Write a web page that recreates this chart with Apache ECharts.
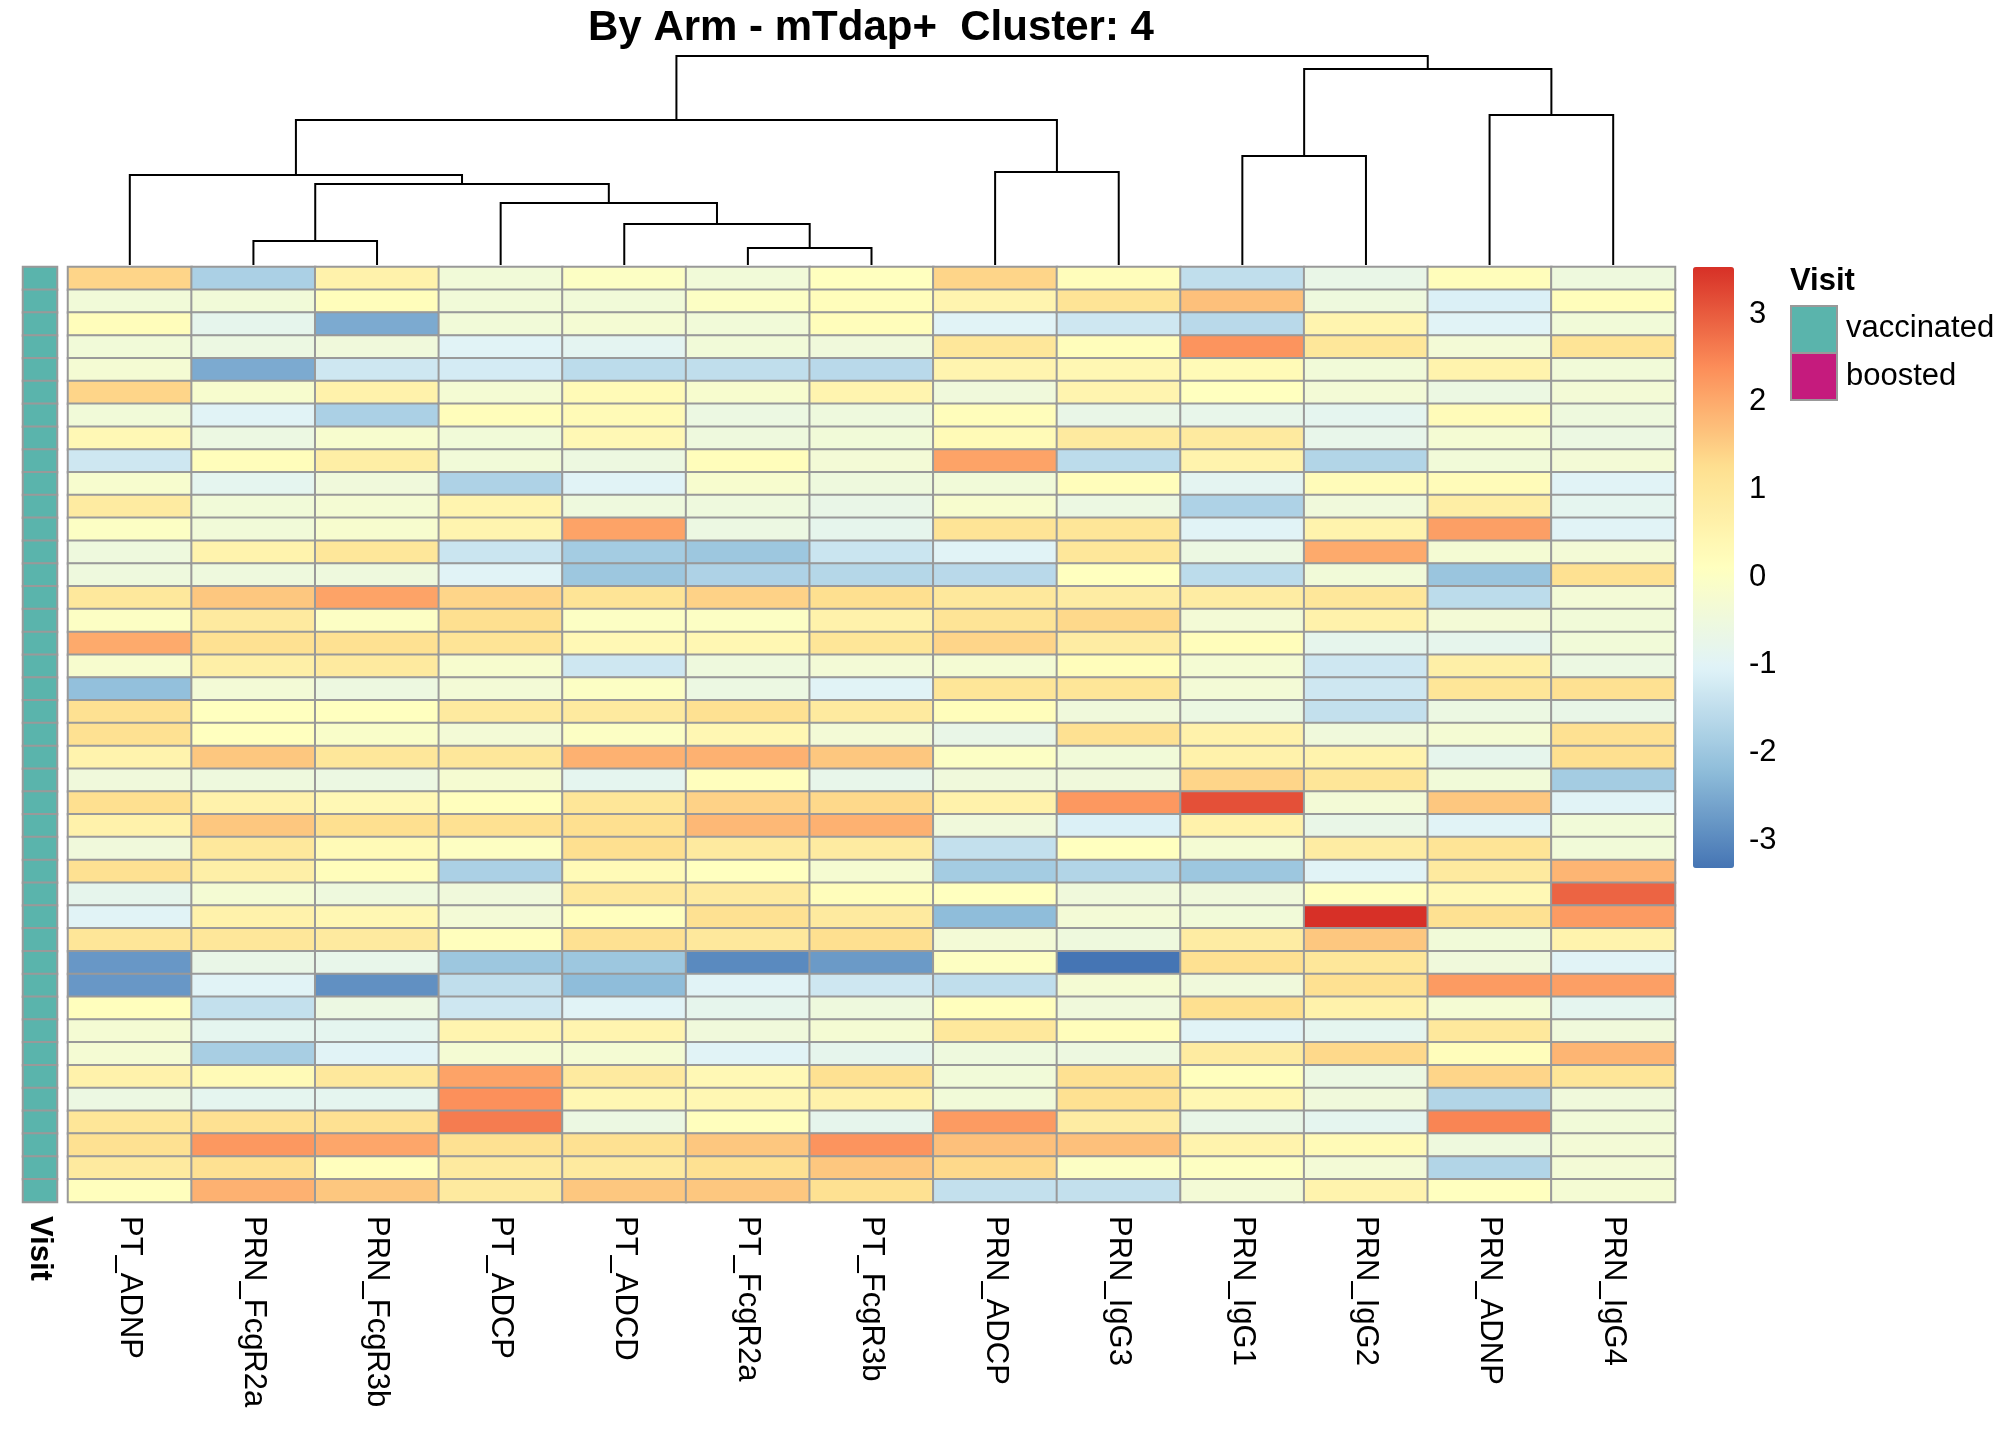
<!DOCTYPE html>
<html>
<head>
<meta charset="utf-8">
<title>By Arm - mTdap+ Cluster: 4</title>
<script src="https://cdn.jsdelivr.net/npm/echarts@6/dist/echarts.min.js"></script>
<style>
  html, body { margin: 0; padding: 0; background: #fff; }
  #chart { width: 2016px; height: 1440px; }
</style>
</head>
<body>
<div id="chart"></div>
<script>
// column order as drawn (after clustering)
const columns = ['PT_ADNP', 'PRN_FcgR2a', 'PRN_FcgR3b', 'PT_ADCP', 'PT_ADCD', 'PT_FcgR2a',
  'PT_FcgR3b', 'PRN_ADCP', 'PRN_IgG3', 'PRN_IgG1', 'PRN_IgG2', 'PRN_ADNP', 'PRN_IgG4'];

// scaled values, one array per column, rows top to bottom
const PT_ADNP = [1.4, -0.4, 0.2, -0.4, -0.3, 1.4, -0.4, 0.35, -1.3, -0.2, 0.85, 0.0, -0.5, -0.5, 0.95, 0.0, 2.0, -0.2, -2.15, 1.2,
  1.2, 0.55, -0.45, 1.25, 0.6, -0.45, 1.2, -0.8, -1.0, 1.05, -2.8, -2.8, 0.15, -0.3, -0.3, 0.6, -0.6, 1.05, 1.2, 0.9, 0.15];
const PRN_FcgR2a = [-1.8, -0.4, -0.8, -0.6, -2.5, -0.2, -1.0, -0.6, 0.2, -0.85, -0.4, -0.4, 0.55, -0.5, 1.6, 0.9, 1.2, 0.7, -0.35, 0.1,
  0.1, 1.6, -0.5, 0.6, 1.6, 0.95, 0.7, -0.3, 0.6, 1.0, -0.7, -1.0, -1.45, -0.85, -1.85, 0.3, -0.85, 1.2, 2.25, 1.2, 1.9];
const PRN_FcgR3b = [0.6, 0.2, -2.5, -0.45, -1.3, 0.6, -1.8, -0.2, 0.75, -0.45, -0.3, -0.2, 1.0, -0.5, 2.1, 0.0, 1.2, 0.9, -0.55, 0.1,
  -0.1, 1.0, -0.6, 0.35, 1.25, 0.3, 0.2, -0.5, 0.4, 0.9, -0.75, -2.9, -0.6, -0.85, -1.0, 0.95, -0.85, 1.2, 2.05, 0.15, 1.6];
const PT_ADCP = [-0.4, -0.4, -0.4, -1.0, -1.2, -0.3, 0.2, -0.4, -0.4, -1.75, 0.5, 0.5, -1.35, -1.0, 1.4, 1.25, 1.1, -0.2, -0.35, 0.9,
  -0.35, 1.0, -0.25, 0.15, 1.2, 0.05, -1.8, -0.45, -0.35, 0.15, -2.0, -1.5, -1.3, 0.5, -0.3, 2.1, 2.35, 2.6, 1.2, 0.9, 0.9];
const PT_ADCD = [0.0, -0.4, -0.3, -0.9, -1.55, 0.3, 0.3, 0.35, -0.55, -1.0, -0.5, 2.1, -1.9, -2.0, 1.1, 0.0, 0.35, -1.3, 0.0, 0.9,
  0.0, 1.9, -0.85, 1.05, 1.25, 1.25, 0.3, 0.95, 0.15, 1.2, -2.0, -2.2, -1.0, 0.5, -0.3, 0.9, 0.4, -0.6, 1.2, 0.9, 1.6];
const PT_FcgR2a = [-0.4, 0.0, -0.4, -0.4, -1.5, -0.2, -0.6, -0.5, 0.2, -0.2, -0.5, -0.6, -2.0, -1.75, 1.45, 0.0, 0.4, -0.5, -0.6, 1.2,
  0.4, 1.9, 0.15, 1.45, 1.8, 0.9, 0.1, 0.9, 1.2, 0.95, -3.0, -1.0, -0.8, -0.45, -1.0, 0.35, 0.4, 0.15, 1.6, 1.2, 1.6];
const PT_FcgR3b = [0.1, 0.2, 0.2, -0.45, -1.6, 0.5, -0.5, -0.4, -0.35, -0.5, -0.7, -0.8, -1.35, -1.65, 1.25, 0.6, 1.05, -0.35, -1.0, 0.9,
  -0.35, 1.6, -0.75, 1.35, 1.9, 0.85, -0.25, 0.2, 0.9, 1.25, -2.75, -1.3, -0.5, -0.3, -0.8, 1.2, 0.6, -0.8, 2.3, 1.6, 1.2];
const PRN_ADCP = [1.4, 0.5, -1.0, 1.0, 0.5, -0.45, 0.2, 0.3, 2.1, -0.4, -0.2, 1.1, -1.0, -1.6, 0.95, 1.1, 1.4, -0.3, 1.05, 0.2,
  -0.7, 0.0, -0.45, 0.6, -0.45, -1.45, -1.9, 0.1, -2.2, -0.35, 0.05, -1.5, 0.15, 0.95, -0.5, -0.4, -0.4, 2.2, 1.7, 1.35, -1.45];
const PRN_IgG3 = [0.2, 1.1, -1.3, 0.2, 0.4, 0.5, -0.7, 0.9, -1.55, 0.2, -0.6, 1.05, 1.0, 0.1, 0.8, 1.35, 0.8, 0.2, 1.05, -0.45,
  1.2, -0.4, -0.45, 2.25, -1.1, 0.1, -1.7, -0.45, -0.35, -0.5, -3.32, -0.3, -0.45, 0.2, -0.55, 1.2, 1.2, 0.8, 1.7, 0.0, -1.45];
const PRN_IgG1 = [-1.5, 1.7, -1.6, 2.3, 0.3, 0.1, -0.75, 0.9, 0.55, -0.9, -1.75, -1.0, -0.6, -1.55, 0.8, -0.35, 0.2, -0.3, -0.35, -0.6,
  0.6, 0.6, 1.4, 3.15, 0.6, -0.3, -2.0, -0.45, -0.4, 0.8, 1.2, -0.45, 1.25, -1.0, 0.85, 0.15, 0.4, -0.7, 0.55, 0.05, -0.35];
const PRN_IgG2 = [-0.7, -0.5, 0.5, 1.0, -0.4, -0.35, -0.85, -0.75, -1.7, 0.25, -0.45, 0.55, 2.0, -0.4, 1.0, 0.6, -0.8, -1.3, -1.3, -1.45,
  -0.45, 0.55, 1.05, -0.35, -0.7, 0.8, -1.0, 0.15, 3.54, 1.6, 1.0, 1.2, 0.6, -0.85, 1.35, -0.6, -0.45, -0.85, 0.3, -0.35, 0.55];
const PRN_ADNP = [0.2, -1.1, -1.0, -0.35, 0.55, -0.6, 0.25, -0.3, -0.4, 0.25, 0.75, 2.15, -0.3, -2.05, -1.55, -0.35, -0.8, 0.7, 1.05, -0.6,
  -0.3, -0.8, -0.4, 1.6, -1.0, 1.1, 0.9, 0.35, 1.2, -0.4, -0.45, 2.2, -0.3, 0.95, 0.2, 1.4, -1.7, 2.5, -0.5, -1.7, 0.1];
const PRN_IgG4 = [-0.5, 0.2, -0.4, 1.1, -0.4, -0.35, -0.5, -0.6, -0.35, -1.0, -0.85, -1.0, -0.35, 1.2, -0.35, -0.4, -0.4, -0.6, 1.2, -0.7,
  1.2, 1.25, -1.9, -1.0, -0.4, -0.4, 1.85, 2.9, 2.2, 0.55, -1.0, 2.15, -0.85, -0.45, 1.85, 1.05, -0.45, -0.4, -0.35, -0.35, -0.3];

const columnValues = [PT_ADNP, PRN_FcgR2a, PRN_FcgR3b, PT_ADCP, PT_ADCD, PT_FcgR2a,
  PT_FcgR3b, PRN_ADCP, PRN_IgG3, PRN_IgG1, PRN_IgG2, PRN_ADNP, PRN_IgG4];

// row annotation
const visitLevels = ['vaccinated', 'boosted'];
const visitColors = ['#5AB4AC', '#C51B7D'];
const visit = [
  'vaccinated', 'vaccinated', 'vaccinated', 'vaccinated', 'vaccinated', 'vaccinated', 'vaccinated', 'vaccinated', 'vaccinated', 'vaccinated',
  'vaccinated', 'vaccinated', 'vaccinated', 'vaccinated', 'vaccinated', 'vaccinated', 'vaccinated', 'vaccinated', 'vaccinated', 'vaccinated',
  'vaccinated', 'vaccinated', 'vaccinated', 'vaccinated', 'vaccinated', 'vaccinated', 'vaccinated', 'vaccinated', 'vaccinated', 'vaccinated',
  'vaccinated', 'vaccinated', 'vaccinated', 'vaccinated', 'vaccinated', 'vaccinated', 'vaccinated', 'vaccinated', 'vaccinated', 'vaccinated',
  'vaccinated'];

// column dendrogram (hclust style: negative = leaf position, positive = earlier merge)
const mergeLeft = [-6, -2, -5, -4, 2, -1, -8, -10, 6, -12, 8, 9];
const mergeRight = [-7, -3, 1, 3, 4, 5, -9, -11, 7, -13, 10, 11];
const mergeHeight = [1.7, 2.4, 4.1, 6.2, 8.1, 9.0, 9.3, 10.9, 14.5, 15.0, 19.6, 20.9];

// colour key
const keyTicks = [-3, -2, -1, 0, 1, 2, 3];
const palette = ['#4575B4', '#91BFDB', '#E0F3F8', '#FFFFBF', '#FEE090', '#FC8D59', '#D73027'];

const nRows = PT_ADNP.length;
const rowIds = [];
for (let r = 0; r < nRows; r++) rowIds.push('r' + (r + 1));

const cells = [];
let vMin = Infinity, vMax = -Infinity;
columnValues.forEach(function (col, c) {
  col.forEach(function (v, r) {
    cells.push([c, r, v]);
    vMin = Math.min(vMin, v);
    vMax = Math.max(vMax, v);
  });
});
const visitCells = visit.map(function (g, r) { return [0, r, visitLevels.indexOf(g)]; });

// dendrogram segments
const nodePos = [], nodeH = [];
const branches = mergeLeft.map(function (l, k) {
  const r = mergeRight[k];
  const xl = l < 0 ? -l - 0.5 : nodePos[l - 1];
  const hl = l < 0 ? 0 : nodeH[l - 1];
  const xr = r < 0 ? -r - 0.5 : nodePos[r - 1];
  const hr = r < 0 ? 0 : nodeH[r - 1];
  nodePos.push((xl + xr) / 2);
  nodeH.push(mergeHeight[k]);
  return [xl, hl, xr, hr, mergeHeight[k]];
});

const FONT = 'Liberation Sans, Arial, Helvetica, sans-serif';
const hmLeft = 68, hmTop = 267, hmWidth = 1607, hmHeight = 935;
const keyLeft = 1693, legLeft = 1790;

const chart = echarts.init(document.getElementById('chart'));
chart.setOption({
  backgroundColor: '#ffffff',
  animation: false,
  textStyle: { fontFamily: FONT },
  title: {
    text: 'By Arm - mTdap+  Cluster: 4',
    left: 866, top: 2, textAlign: 'center',
    textStyle: { fontFamily: FONT, fontSize: 42, fontWeight: 'bold', color: '#000' }
  },
  grid: [
    { left: hmLeft, top: hmTop, width: hmWidth, height: hmHeight },
    { left: 23, top: hmTop, width: 34, height: hmHeight },
    { left: hmLeft, top: 56, width: hmWidth, height: 209 },
    { left: keyLeft, top: hmTop, width: 41, height: 601 }
  ],
  xAxis: [
    {
      gridIndex: 0, type: 'category', data: columns, position: 'bottom',
      axisLine: { show: false }, axisTick: { show: false },
      axisLabel: { rotate: -90, margin: 14, fontSize: 31, color: '#000', fontFamily: FONT, interval: 0 }
    },
    {
      gridIndex: 1, type: 'category', data: ['Visit'], position: 'bottom',
      axisLine: { show: false }, axisTick: { show: false },
      axisLabel: { rotate: -90, margin: 14, fontSize: 31, fontWeight: 'bold', color: '#000', fontFamily: FONT }
    },
    { gridIndex: 2, type: 'value', min: 0, max: columns.length, show: false },
    { gridIndex: 3, type: 'value', min: 0, max: 1, show: false }
  ],
  yAxis: [
    { gridIndex: 0, type: 'category', data: rowIds, inverse: true, show: false },
    { gridIndex: 1, type: 'category', data: rowIds, inverse: true, show: false },
    { gridIndex: 2, type: 'value', min: 0, max: mergeHeight[mergeHeight.length - 1], show: false },
    {
      gridIndex: 3, type: 'value', min: vMin, max: vMax, position: 'right',
      axisLine: { show: false }, axisTick: { show: false }, splitLine: { show: false },
      axisLabel: { customValues: keyTicks, margin: 15, fontSize: 31, color: '#000', fontFamily: FONT }
    }
  ],
  visualMap: [
    {
      type: 'continuous', seriesIndex: 0, min: vMin, max: vMax,
      calculable: false, hoverLink: false, realtime: false,
      orient: 'vertical', left: keyLeft, top: hmTop, padding: 0,
      itemWidth: 41, itemHeight: 601, text: null, showLabel: false,
      inRange: { color: palette }
    },
    {
      type: 'piecewise', seriesIndex: 1, show: false,
      pieces: visitLevels.map(function (l, i) { return { value: i, color: visitColors[i] }; })
    }
  ],
  graphic: [
    { type: 'text', left: legLeft, top: 266, style: { text: 'Visit', font: 'bold 31px ' + FONT, fill: '#000' } },
    { type: 'rect', left: legLeft, top: 305, shape: { width: 46, height: 47 },
      style: { fill: visitColors[0], stroke: '#999999', lineWidth: 2 } },
    { type: 'rect', left: legLeft, top: 352, shape: { width: 46, height: 47 },
      style: { fill: visitColors[1], stroke: '#999999', lineWidth: 2 } },
    { type: 'text', left: legLeft + 56, top: 313, style: { text: visitLevels[0], font: '31px ' + FONT, fill: '#000' } },
    { type: 'text', left: legLeft + 56, top: 361, style: { text: visitLevels[1], font: '31px ' + FONT, fill: '#000' } }
  ],
  series: [
    {
      type: 'heatmap', xAxisIndex: 0, yAxisIndex: 0, data: cells,
      itemStyle: { borderColor: '#999999', borderWidth: 2 },
      emphasis: { disabled: true }
    },
    {
      type: 'heatmap', xAxisIndex: 1, yAxisIndex: 1, data: visitCells,
      itemStyle: { borderColor: '#999999', borderWidth: 2 },
      emphasis: { disabled: true }
    },
    {
      type: 'custom', xAxisIndex: 2, yAxisIndex: 2, data: branches,
      encode: { x: [0, 2], y: [1, 3, 4] },
      renderItem: function (params, api) {
        const xl = api.value(0), hl = api.value(1), xr = api.value(2), hr = api.value(3), h = api.value(4);
        return {
          type: 'polyline',
          shape: { points: [api.coord([xl, hl]), api.coord([xl, h]), api.coord([xr, h]), api.coord([xr, hr])] },
          style: { stroke: '#000', lineWidth: 2, fill: null }
        };
      }
    }
  ]
});
</script>
</body>
</html>
